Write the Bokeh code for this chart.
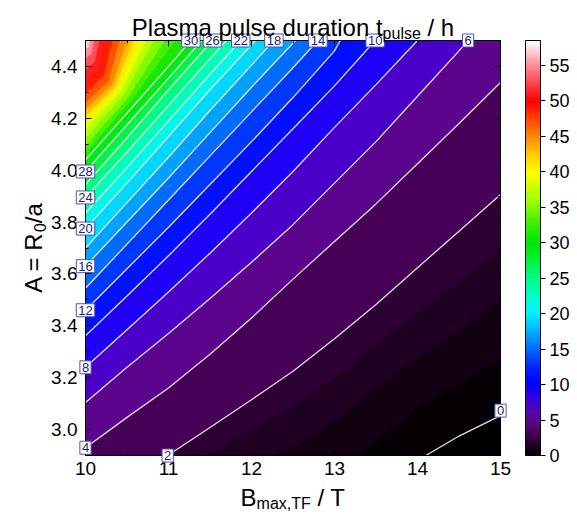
import numpy as np
from bokeh.plotting import figure
from bokeh.models import (ColorBar, LinearColorMapper, FixedTicker, SingleIntervalTicker,
                          LinearAxis, PrintfTickFormatter, Range1d)
from bokeh.core.properties import value
from bokeh.embed import file_html
from bokeh.resources import INLINE

# ---------------- data ----------------
x_limits = [10.0, 15.0]          # B_max,TF / T
y_limits = [2.9, 4.5]            # A = R0/a

# drawn contour lines (level, B points, A points)
contour_levels = [0, 2, 4, 6, 8, 10, 12, 14, 16, 18, 20, 22, 24, 26, 28, 30]
contour_B = [
    [14.1, 14.5, 15.0],
    [10.99, 11.5, 12.0, 12.5, 13.0, 13.5, 14.0, 14.5, 15.0],
    [10.0, 10.5, 11.0, 11.5, 12.0, 12.5, 13.0, 13.5, 14.0, 14.5, 15.0],
    [10.0, 10.5, 11.0, 11.5, 12.0, 12.5, 13.0, 13.5, 14.0, 14.5, 14.61],
    [10.0, 10.5, 11.0, 11.5, 12.0, 12.5, 13.0, 13.5, 14.0],
    [10.0, 10.5, 11.0, 11.5, 12.0, 12.5, 13.0, 13.49],
    [10.0, 10.5, 11.0, 11.5, 12.0, 12.5, 13.0, 13.07],
    [10.0, 10.5, 11.0, 11.5, 12.0, 12.5, 12.8],
    [10.0, 10.5, 11.0, 11.5, 12.0, 12.53],
    [10.0, 10.5, 11.0, 11.5, 12.0, 12.27],
    [10.0, 10.5, 11.0, 11.5, 12.05],
    [10.0, 10.5, 11.0, 11.5, 11.87],
    [10.0, 10.5, 11.0, 11.5, 11.70],
    [10.0, 10.5, 11.0, 11.53],
    [10.0, 10.5, 11.0, 11.40],
    [10.0, 10.5, 11.0, 11.27],
]
contour_A = [
    [2.9, 2.975, 3.054],
    [2.9, 3.008, 3.115, 3.225, 3.35, 3.482, 3.624, 3.765, 3.906],
    [2.93, 3.047, 3.16, 3.29, 3.43, 3.58, 3.725, 3.87, 4.025, 4.18, 4.338],
    [3.104, 3.24, 3.37, 3.505, 3.645, 3.79, 3.95, 4.11, 4.285, 4.46, 4.5],
    [3.24, 3.385, 3.53, 3.68, 3.835, 3.995, 4.165, 4.33, 4.5],
    [3.362, 3.515, 3.67, 3.83, 3.995, 4.16, 4.325, 4.5],
    [3.46, 3.62, 3.78, 3.945, 4.11, 4.28, 4.46, 4.5],
    [3.545, 3.715, 3.885, 4.055, 4.225, 4.395, 4.5],
    [3.63, 3.80, 3.97, 4.145, 4.32, 4.5],
    [3.70, 3.875, 4.05, 4.23, 4.405, 4.5],
    [3.775, 3.95, 4.13, 4.31, 4.5],
    [3.835, 4.01, 4.19, 4.37, 4.5],
    [3.895, 4.07, 4.25, 4.43, 4.5],
    [3.945, 4.125, 4.31, 4.5],
    [3.995, 4.175, 4.355, 4.5],
    [4.04, 4.22, 4.40, 4.5],
]

# iso-lines of the colour field that are not drawn as lines (read from the colours)
shade_levels = [0.5, 1, 1.5, 32, 34, 36, 38, 40, 42, 44, 46, 48, 50, 52, 54, 56]
shade_B = [
    [13.25, 13.5, 14.0, 14.5, 15.0],
    [12.25, 12.5, 13.0, 13.5, 14.0, 14.5, 15.0],
    [11.42, 12.0, 12.5, 13.0, 13.5, 14.0, 14.5, 15.0],
    [10.0, 10.56, 11.08],
    [10.0, 10.513, 10.95],
    [10.0, 10.459, 10.82],
    [10.0, 10.423, 10.73],
    [10.0, 10.384, 10.64],
    [10.0, 10.353, 10.57],
    [10.0, 10.32, 10.50],
    [10.0, 10.271, 10.41],
    [10.0, 10.218, 10.32],
    [10.0, 10.154, 10.22],
    [10.0, 10.112, 10.16],
    [10.0, 10.07, 10.10],
    [10.0, 10.035, 10.05],
]
shade_A = [
    [2.9, 2.95, 3.08, 3.18, 3.27],
    [2.9, 2.93, 3.03, 3.16, 3.28, 3.38, 3.5],
    [2.9, 3.0, 3.09, 3.2, 3.33, 3.45, 3.57, 3.7],
    [4.067, 4.275, 4.5],
    [4.094, 4.281, 4.5],
    [4.125, 4.29, 4.5],
    [4.16, 4.303, 4.5],
    [4.185, 4.311, 4.5],
    [4.21, 4.32, 4.5],
    [4.235, 4.33, 4.5],
    [4.26, 4.342, 4.5],
    [4.30, 4.364, 4.5],
    [4.34, 4.388, 4.5],
    [4.385, 4.42, 4.5],
    [4.43, 4.451, 4.5],
    [4.465, 4.476, 4.5],
]
t_peak = 58.0

# contour labels
clabel_text = ["30", "26", "22", "18", "14", "10", "6",
               "28", "24", "20", "16", "12", "8", "4", "2", "0"]
clabel_B = [11.27, 11.53, 11.87, 12.27, 12.80, 13.49, 14.61,
            10.0, 10.0, 10.0, 10.0, 10.0, 10.0, 10.0, 10.99, 15.0]
clabel_A = [4.5, 4.5, 4.5, 4.5, 4.5, 4.5, 4.5,
            3.995, 3.895, 3.775, 3.63, 3.46, 3.24, 2.93, 2.9, 3.073]

cbar_ticks = [0, 5, 10, 15, 20, 25, 30, 35, 40, 45, 50, 55]
t_low, t_high = 0.0, 58.5

# ---------------- colour map ----------------
anchors = [
    (0, (0, 0, 0)), (1, (25, 0, 25)), (2, (50, 0, 60)), (3, (70, 0, 85)),
    (4, (85, 5, 110)), (5, (90, 5, 140)), (6, (85, 5, 170)), (7, (75, 0, 200)),
    (8, (55, 0, 225)), (9, (30, 0, 245)), (10, (0, 0, 255)), (12, (0, 30, 255)),
    (14, (0, 80, 255)), (16, (0, 135, 255)), (18, (0, 190, 255)), (20, (0, 240, 255)),
    (22, (0, 255, 210)), (24, (0, 255, 160)), (26, (0, 250, 100)), (28, (0, 240, 40)),
    (30, (0, 230, 0)), (33, (70, 240, 0)), (36, (160, 255, 0)), (40, (255, 255, 0)),
    (43, (255, 190, 0)), (46, (255, 110, 0)), (50, (255, 0, 0)), (53, (255, 80, 90)),
    (56, (255, 170, 180)), (58.5, (255, 255, 255)),
]
av = np.array([a[0] for a in anchors], dtype=float)
ac = np.array([a[1] for a in anchors], dtype=float)

def colour_of(v):
    rgb = [int(round(np.interp(v, av, ac[:, k]))) for k in range(3)]
    return "#%02x%02x%02x" % tuple(rgb)

palette = [colour_of(v) for v in np.linspace(t_low, t_high, 256)]
mapper = LinearColorMapper(palette=palette, low=t_low, high=t_high,
                           low_color="#000000", high_color="#ffffff")

# ---------------- figure ----------------
FONT = "Liberation Sans"
FW, FH = 415, 415
p = figure(width=575, height=518, x_range=Range1d(*x_limits), y_range=Range1d(*y_limits),
           output_backend="svg", toolbar_location=None, title=None,
           min_border_left=85, min_border_right=75, min_border_top=40, min_border_bottom=63)
p.grid.visible = False
p.outline_line_color = "black"
p.background_fill_color = "#000000"   # colour of the region below 0
p.border_fill_color = "white"

# filled shading: every iso-line bounds the region of higher values (toward top-left)
all_levels = contour_levels + shade_levels
all_B = contour_B + shade_B
all_A = contour_A + shade_A
order = np.argsort(all_levels)
lv_sorted = [all_levels[i] for i in order]
Bmin, Bmax = x_limits
Amin, Amax = y_limits
poly_x, poly_y, poly_c = [], [], []
for k, i in enumerate(order):
    xs = list(all_B[i]); ys = list(all_A[i])
    if xs[-1] >= Bmax and ys[-1] < Amax:
        xs.append(Bmax); ys.append(Amax)
    xs.append(Bmin); ys.append(Amax)
    if ys[0] <= Amin and xs[0] > Bmin:
        xs.append(Bmin); ys.append(Amin)
    lo = lv_sorted[k]
    hi = lv_sorted[k + 1] if k + 1 < len(lv_sorted) else t_peak
    poly_x.append(xs); poly_y.append(ys); poly_c.append(colour_of(0.5 * (lo + hi)))
p.patches(xs=poly_x, ys=poly_y, fill_color=poly_c, line_color=poly_c, line_width=0.6)

p.multi_line(xs=contour_B, ys=contour_A, line_color="#f2e6f2", line_width=1.3, line_alpha=0.95)

p.text(x=clabel_B, y=clabel_A, text=clabel_text, text_align="center", text_baseline="middle",
       text_font=value(FONT), text_font_size=value("13px"), text_color="#22227a",
       background_fill_color="white", border_line_color="#5050b0", border_line_width=1,
       padding=2, level="overlay")

# axes
def style_axis(ax, interval, show_labels):
    ax.ticker = SingleIntervalTicker(interval=interval, num_minor_ticks=2)
    ax.major_tick_in = 6
    ax.major_tick_out = 0
    ax.minor_tick_in = 3
    ax.minor_tick_out = 0
    ax.axis_line_color = "black"
    ax.major_tick_line_color = "black"
    ax.minor_tick_line_color = "black"
    if show_labels:
        ax.major_label_text_font = FONT
        ax.major_label_text_font_size = "19px"
        ax.major_label_text_color = "black"
    else:
        ax.major_label_text_font_size = "1px"
        ax.major_label_text_color = None

style_axis(p.xaxis[0], 1.0, True)
style_axis(p.yaxis[0], 0.2, True)
p.yaxis[0].formatter = PrintfTickFormatter(format="%.1f")
p.xaxis[0].major_label_standoff = 6
p.yaxis[0].major_label_standoff = 8

ax_top = LinearAxis()
style_axis(ax_top, 1.0, False)
p.add_layout(ax_top, "above")
ax_right = LinearAxis()
style_axis(ax_right, 0.2, False)
p.add_layout(ax_right, "right")

# colour bar
cb = ColorBar(color_mapper=mapper, location=(440, 0), width=15, height=FH, padding=0,
              ticker=FixedTicker(ticks=cbar_ticks), bar_line_color="black", bar_line_width=1,
              major_tick_in=0, major_tick_out=5, major_tick_line_color="black",
              minor_tick_line_color=None, label_standoff=4,
              major_label_text_font=FONT, major_label_text_font_size="18px",
              major_label_text_color="black",
              background_fill_color=None, border_line_color=None)
p.add_layout(cb)

# composite texts with subscripts (positions in px relative to the frame's bottom-left)
CW = {'P': 667, 'l': 222, 'a': 556, 's': 500, 'm': 833, ' ': 278, 'p': 556, 'u': 556,
      'e': 556, 'd': 556, 'r': 333, 't': 278, 'i': 222, 'o': 556, 'n': 556, '/': 278,
      'h': 556, 'B': 667, 'x': 500, ',': 278, 'T': 611, 'F': 611, 'A': 667, '=': 584,
      'R': 722, '0': 556}

def text_width(s, size):
    return sum(CW.get(c, 556) for c in s) * size / 1000.0

def px_to_B(px):
    return Bmin + px * (Bmax - Bmin) / FW

def px_to_A(py):
    return Amin + py * (Amax - Amin) / FH

def place_runs(runs, start, base, rotated=False, rot_shift=0.0):
    pos = start
    for txt, size, drop in runs:
        lead = len(txt) - len(txt.lstrip(" "))
        pos += text_width(" " * lead, size)
        body = txt.strip(" ")
        if rotated:
            bx, by = px_to_B(base + drop + rot_shift), px_to_A(pos)
            ang = np.pi / 2
        else:
            bx, by = px_to_B(pos), px_to_A(base - drop)
            ang = 0.0
        p.text(x=[bx], y=[by], text=[body], angle=ang, text_align="left",
               text_baseline="alphabetic", text_font=value(FONT),
               text_font_size=value("%dpx" % size), text_color="black", level="overlay")
        pos += text_width(txt.lstrip(" "), size)

title_runs = [("Plasma pulse duration t", 24, 0), ("pulse", 16, 6), (" / h", 24, 0)]
xlab_runs = [("B", 24, 0), ("max,TF", 16, 6), (" / T", 24, 0)]
ylab_runs = [("A = R", 24, 0), ("0", 16, 6), ("/a", 24, 0)]

def total(runs):
    return sum(text_width(t, s) for t, s, _ in runs)

place_runs(title_runs, 207.5 - total(title_runs) / 2, 428)
place_runs(xlab_runs, 207.5 - total(xlab_runs) / 2, -42)
place_runs(ylab_runs, 207.5 - total(ylab_runs) / 2, -40, rotated=True, rot_shift=-12)

open("out.html", "w").write(file_html(p, INLINE))
